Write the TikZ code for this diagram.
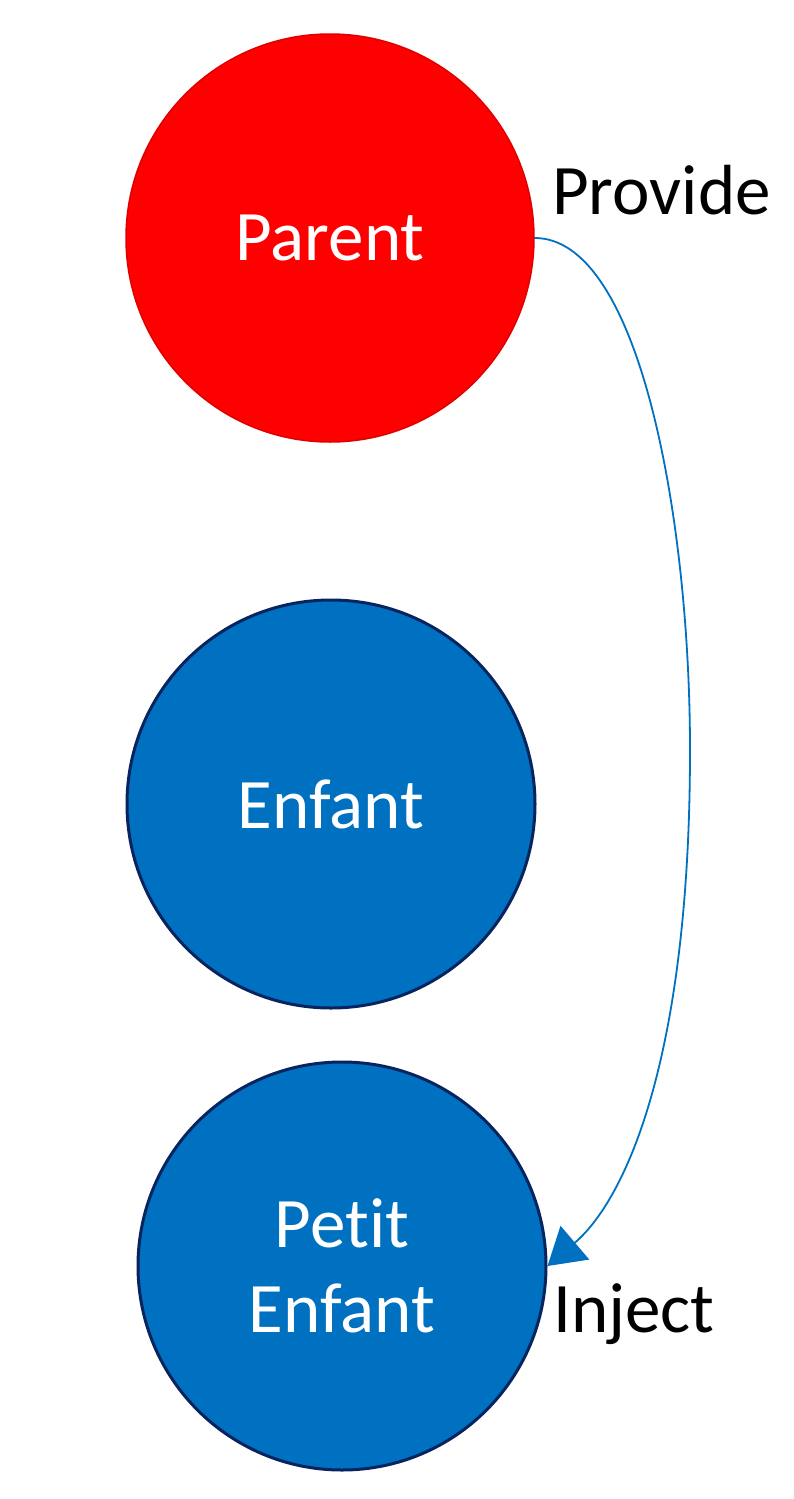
\documentclass[tikz,border=0pt]{standalone}
\usepackage{fontspec}
\setmainfont{Carlito}[Ligatures={NoCommon}]
\usetikzlibrary{arrows.meta}
\definecolor{pred}{HTML}{FF0000}
\definecolor{predline}{HTML}{E00000}
\definecolor{pblue}{HTML}{0070C0}
\definecolor{pnavy}{HTML}{08245E}
\tikzset{
  circ/.style={circle, minimum size=408pt, inner sep=0pt, text=white, align=center,
    font=\fontsize{71}{85}\selectfont},
  redcirc/.style={circ, fill=pred, draw=predline, line width=1.5pt},
  bluecirc/.style={circ, fill=pblue, draw=pnavy, line width=3pt},
  lbl/.style={font=\fontsize{71}{84}\selectfont, text=black, inner sep=0pt, anchor=base west},
  conn/.style={draw=pblue, line width=1.8pt, -{Triangle[length=36pt,width=44pt]}}
}
\begin{document}
\begin{tikzpicture}[x=1pt,y=-1pt]
\useasboundingbox (0,0) rectangle (794,1499);
\node[redcirc] (parent) at (330,238) {Parent};
\node[bluecirc] (enfant) at (331,804) {Enfant};
\node[bluecirc] (petit) at (342,1266) {Petit\\Enfant};
\node[lbl] (provide) at (552,214) {Provide};
\node[lbl] (inject) at (553,1332) {Inject};
\coordinate (bend) at (690,750);
\draw[conn] (parent.east) .. controls (640,238) and (690,520) .. (bend)
  .. controls (690,1060) and (625,1200) .. (petit.east);
\end{tikzpicture}
\end{document}
